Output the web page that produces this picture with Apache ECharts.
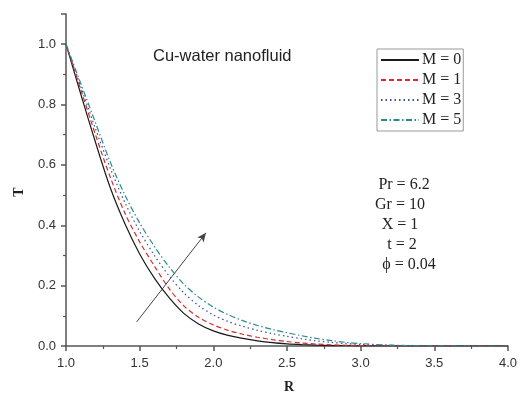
<!DOCTYPE html>
<html>
<head>
<meta charset="utf-8">
<script src="https://cdn.jsdelivr.net/npm/echarts@6/dist/echarts.min.js"></script>
<style>
html,body{margin:0;padding:0;background:#fff;}
#chart{width:520px;height:395px;}
</style>
</head>
<body>
<div id="chart"></div>
<script>
// Data
var R = [1.0,1.1,1.2,1.3,1.4,1.5,1.6,1.7,1.8,1.9,2.0,2.1,2.2,2.3,2.4,2.5,2.6,2.7,2.8,2.9,3.0,3.2,3.5,4.0];
var T_M0 = [1.0,0.835,0.675,0.525,0.405,0.305,0.225,0.16,0.108,0.073,0.05,0.035,0.025,0.017,0.011,0.007,0.0045,0.0028,0.0015,0.0008,0.0003,0,0,0];
var T_M1 = [1.0,0.85,0.70,0.56,0.44,0.345,0.265,0.19,0.133,0.095,0.07,0.052,0.039,0.029,0.021,0.015,0.01,0.0065,0.004,0.0025,0.0012,0.0003,0,0];
var T_M3 = [1.0,0.86,0.72,0.59,0.475,0.38,0.30,0.232,0.176,0.134,0.103,0.081,0.065,0.052,0.041,0.032,0.024,0.017,0.012,0.008,0.005,0.002,0.0003,0];
var T_M5 = [1.0,0.87,0.74,0.61,0.50,0.408,0.33,0.262,0.205,0.162,0.129,0.104,0.084,0.068,0.055,0.044,0.034,0.025,0.018,0.012,0.008,0.003,0.0005,0];
var seriesNames = ['M = 0','M = 1','M = 3','M = 5'];
var xTicks = [1.0,1.5,2.0,2.5,3.0,3.5,4.0];
var yTicks = [0.0,0.2,0.4,0.6,0.8,1.0];
var arrowStart = [1.48,0.08];
var arrowEnd = [1.95,0.375];
var paramLines = ['Pr = 6.2','Gr = 10','X = 1','t = 2','\u03D5 = 0.04'];
var panelTitle = 'Cu-water nanofluid';

function pairs(ys){ return R.map(function(r,i){ return [r, ys[i]]; }); }

var chart = echarts.init(document.getElementById('chart'), null, {renderer:'canvas'});
var styles = [
  {color:'#1a1a1a', type:'solid'},
  {color:'#d92b2b', type:[5,3]},
  {color:'#3a4fa8', type:[1.5,3]},
  {color:'#2a8c86', type:[6,2.5,1.5,2.5]}
];
var allT = [T_M0,T_M1,T_M3,T_M5];
var series = allT.map(function(ys,i){
  return {
    name: seriesNames[i], type:'line', data: pairs(ys), symbol:'none',
    smooth: 0.3,
    lineStyle:{color:styles[i].color, width:1.2, type:styles[i].type},
    itemStyle:{color:styles[i].color},
    z: 3 + i
  };
});
series.push({
  name:'arrow', type:'line', data:[], symbol:'none',
  markLine:{
    silent:true, symbol:['none','arrow'], symbolSize:[6,9],
    label:{show:false},
    lineStyle:{color:'#444', width:1, type:'solid'},
    data:[[{coord:arrowStart},{coord:arrowEnd}]]
  }
});

var serif = '"Liberation Serif","Times New Roman",serif';
var sans = '"Liberation Sans",Arial,sans-serif';
var centers = [404,400,400,402,409];
var graphics = [
  {type:'text', left:153, top:48, style:{text:panelTitle, font:'16.5px '+sans, fill:'#222'}},
  {type:'text', x:19, y:192, rotation:Math.PI/2, style:{text:'T', font:'bold 14px '+serif, fill:'#222', textAlign:'center', textVerticalAlign:'middle'}},
  {type:'text', x:289, y:387, style:{text:'R', font:'bold 14px '+serif, fill:'#222', textAlign:'center', textVerticalAlign:'middle'}}
];
paramLines.forEach(function(s,i){
  graphics.push({type:'text', x:centers[i], y:185+20*i, style:{text:s, font:'16px '+serif, fill:'#222', textAlign:'center', textVerticalAlign:'middle'}});
});

chart.setOption({
  backgroundColor:'#fff',
  animation:false,
  grid:{left:66, right:7, top:14, bottom:49, containLabel:false},
  legend:{
    data:seriesNames, orient:'vertical', left:377, top:49,
    padding:[3,2,3,3], itemWidth:38, itemHeight:14, itemGap:4, itemStyle:{opacity:0},
    borderColor:'#999', borderWidth:1, backgroundColor:'#fff',
    textStyle:{fontFamily:serif, fontSize:16, color:'#222', lineHeight:16, padding:[0,0,0,-2]},
    selectedMode:false
  },
  xAxis:{
    type:'value', min:1, max:4, interval:0.5,
    axisLine:{show:true, lineStyle:{color:'#555', width:1.5}},
    axisTick:{show:true, length:5, lineStyle:{color:'#555', width:1.5}},
    minorTick:{show:true, splitNumber:2, length:3, lineStyle:{color:'#555', width:1.2}},
    splitLine:{show:false},
    axisLabel:{fontFamily:sans, fontSize:13, color:'#333', margin:11,
      formatter:function(v){ return xTicks.indexOf(+v.toFixed(1))>=0 ? v.toFixed(1) : ''; }}
  },
  yAxis:{
    type:'value', min:0, max:1.1, interval:0.2,
    axisLine:{show:true, lineStyle:{color:'#555', width:1.5}},
    axisTick:{show:true, length:5, lineStyle:{color:'#555', width:1.5}},
    minorTick:{show:true, splitNumber:2, length:3, lineStyle:{color:'#555', width:1.2}},
    splitLine:{show:false},
    axisLabel:{fontFamily:sans, fontSize:13, color:'#333', margin:10, showMaxLabel:false,
      formatter:function(v){ var t=+v.toFixed(1); return yTicks.indexOf(t)>=0 && Math.abs(v-t)<1e-6 ? v.toFixed(1) : ''; }}
  },
  graphic:graphics,
  series:series
});
</script>
</body>
</html>
